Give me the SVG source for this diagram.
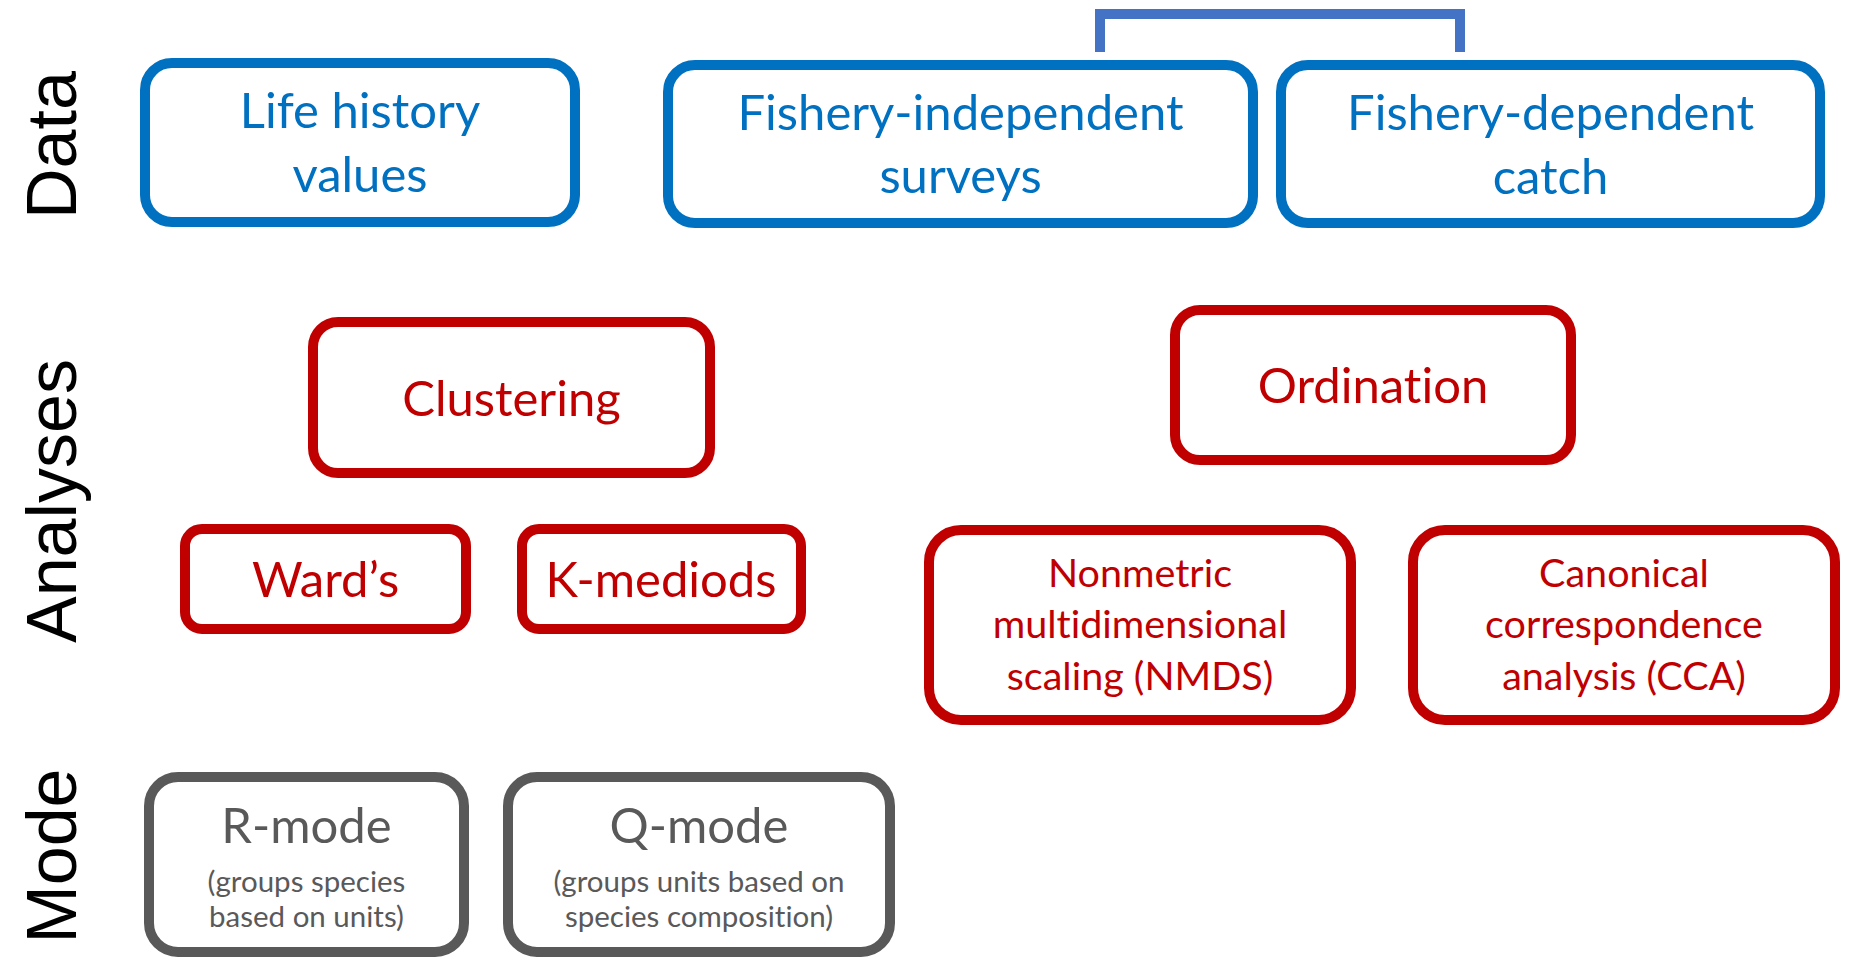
<svg xmlns="http://www.w3.org/2000/svg" width="1851" height="959" viewBox="0 0 1851 959">
<style>
.box{fill:#fff;stroke-width:10}
.blue{stroke:#0070C0}
.red{stroke:#C00000}
.gray{stroke:#595959}
.t{font-family:Lato,"Liberation Sans",sans-serif;text-anchor:middle;font-variant-ligatures:none;font-feature-settings:"liga" 0,"clig" 0}
.tb{fill:#0070C0;font-size:49px}
.tr{fill:#C00000;font-size:49px}
.trs{fill:#C00000;font-size:39.5px}
.tg{fill:#595959;font-size:49px}
.tgs{fill:#595959;font-size:29.5px}
.lab{font-family:"Liberation Sans",sans-serif;font-size:70px;fill:#000;text-anchor:middle}
</style>
<rect width="1851" height="959" fill="#fff"/>
<g id="labels">
<text class="lab" transform="translate(76,145) rotate(-90)">Data</text>
<text class="lab" transform="translate(76,501) rotate(-90)">Analyses</text>
<text class="lab" transform="translate(76,856) rotate(-90)">Mode</text>
</g>
<g id="connectors">
<path d="M1100,52 V14 H1460 V52" fill="none" stroke="#4472C4" stroke-width="10" stroke-linejoin="miter"/>
</g>
<g id="life-history">
<rect class="box blue" x="145" y="63" width="430" height="159" rx="27"/>
<text class="t tb" x="360" y="128">Life history</text>
<text class="t tb" x="360" y="192">values</text>
</g>
<g id="fishery-independent">
<rect class="box blue" x="668" y="65" width="585" height="158" rx="27"/>
<text class="t tb" x="960.5" y="130">Fishery-independent</text>
<text class="t tb" x="960.5" y="193">surveys</text>
</g>
<g id="fishery-dependent">
<rect class="box blue" x="1281" y="65" width="539" height="158" rx="27"/>
<text class="t tb" x="1550.5" y="130">Fishery-dependent</text>
<text class="t tb" x="1550.5" y="194">catch</text>
</g>
<g id="clustering">
<rect class="box red" x="313" y="322" width="397" height="151" rx="25"/>
<text class="t tr" x="511.5" y="416">Clustering</text>
</g>
<g id="wards">
<rect class="box red" x="185" y="529" width="281" height="100" rx="17"/>
<text class="t tr" x="325.5" y="597">Ward’s</text>
</g>
<g id="kmediods">
<rect class="box red" x="522" y="529" width="279" height="100" rx="17"/>
<text class="t tr" x="661" y="597">K-mediods</text>
</g>
<g id="ordination">
<rect class="box red" x="1175" y="310" width="396" height="150" rx="25"/>
<text class="t tr" x="1373" y="403">Ordination</text>
</g>
<g id="nmds">
<rect class="box red" x="929" y="530" width="422" height="190" rx="32"/>
<text class="t trs" x="1140" y="587">Nonmetric</text>
<text class="t trs" x="1140" y="638">multidimensional</text>
<text class="t trs" x="1140" y="690">scaling (NMDS)</text>
</g>
<g id="cca">
<rect class="box red" x="1413" y="530" width="422" height="190" rx="32"/>
<text class="t trs" x="1624" y="587">Canonical</text>
<text class="t trs" x="1624" y="638">correspondence</text>
<text class="t trs" x="1624" y="690">analysis (CCA)</text>
</g>
<g id="r-mode">
<rect class="box gray" x="149" y="777" width="315" height="175" rx="29"/>
<text class="t tg" x="306.5" y="843">R-mode</text>
<text class="t tgs" x="306.5" y="892">(groups species</text>
<text class="t tgs" x="306.5" y="927">based on units)</text>
</g>
<g id="q-mode">
<rect class="box gray" x="508" y="777" width="382" height="175" rx="29"/>
<text class="t tg" x="699" y="843">Q-mode</text>
<text class="t tgs" x="699" y="892">(groups units based on</text>
<text class="t tgs" x="699" y="927">species composition)</text>
</g>
</svg>
